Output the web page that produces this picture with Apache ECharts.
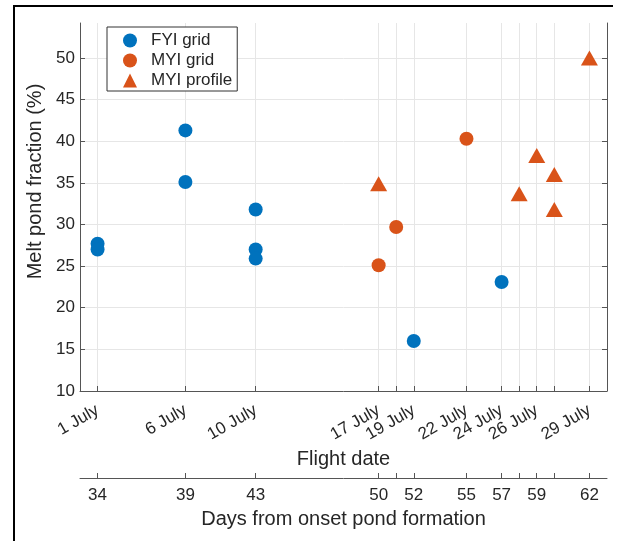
<!DOCTYPE html>
<html>
<head>
<meta charset="utf-8">
<script src="https://cdn.jsdelivr.net/npm/echarts@6/dist/echarts.min.js"></script>
<style>html,body{margin:0;padding:0;background:#fff;}#c{width:623px;height:541px;}</style>
</head>
<body>
<div id="c"></div>
<script>
// Data
var tickDays = [34, 39, 43, 50, 51, 52, 55, 57, 58, 59, 60, 62];
var labelDays = [34, 39, 43, 50, 52, 55, 57, 59, 62];
var dateLabels = ['1 July', '6 July', '10 July', '17 July', '19 July', '22 July', '24 July', '26 July', '29 July'];
var yTicks = [10, 15, 20, 25, 30, 35, 40, 45, 50];

var fyiDays = [34, 34, 39, 39, 43, 43, 43, 52, 57];
var fyiValues = [27.7, 27.0, 41.3, 35.1, 31.8, 27.0, 25.9, 16.0, 23.1];
var myiGridDays = [50, 51, 55];
var myiGridValues = [25.1, 29.7, 40.3];
var myiProfileDays = [50, 58, 59, 60, 60, 62];
var myiProfileValues = [34.9, 33.7, 38.3, 36.0, 31.8, 50.0];

function pairs(xs, ys) { return xs.map(function (x, i) { return [x, ys[i]]; }); }

var FONT = '"Liberation Sans", Arial, Helvetica, sans-serif';
var TXT = '#262626';
var AXC = '#555555';
var GRID = '#e6e6e6';
var TICK_FS = 17;
var NAME_FS = 20;

var chart = echarts.init(document.getElementById('c'), null, { renderer: 'canvas' });
chart.setOption({
  animation: false,
  textStyle: { fontFamily: FONT },
  grid: { left: 80, right: 16, top: 23, bottom: 150, containLabel: false },
  legend: {
    orient: 'vertical', left: 107, top: 27,
    backgroundColor: '#fff', borderColor: '#333', borderWidth: 1,
    padding: [5, 5, 2, 16], itemGap: 3, itemWidth: 14, itemHeight: 14,
    textStyle: { fontSize: 17, lineHeight: 17, color: TXT, fontFamily: FONT, padding: [0, 0, 0, 9] },
    data: [
      { name: 'FYI grid', icon: 'circle' },
      { name: 'MYI grid', icon: 'circle' },
      { name: 'MYI profile', icon: 'triangle' }
    ]
  },
  xAxis: [
    {
      type: 'value', min: 33, max: 63, position: 'bottom',
      axisLine: { show: true, onZero: false, lineStyle: { color: AXC, width: 1 } },
      axisTick: { show: true, inside: true, length: 5, customValues: tickDays, lineStyle: { color: AXC } },
      axisLabel: {
        customValues: labelDays, rotate: 30, margin: 18, fontSize: TICK_FS, color: TXT, fontFamily: FONT,
        padding: [0, 0, 0, 0],
        formatter: function (v) { var i = labelDays.indexOf(v); return i >= 0 ? dateLabels[i] : ''; }
      },
      splitLine: { show: true, lineStyle: { color: GRID, width: 1 } },
      name: 'Flight date', nameLocation: 'middle', nameGap: 58,
      nameTextStyle: { fontSize: NAME_FS, color: TXT, fontFamily: FONT }
    },
    {
      type: 'value', min: 33, max: 63, position: 'bottom', offset: 87,
      axisLine: { show: true, onZero: false, lineStyle: { color: AXC, width: 1 } },
      axisTick: { show: true, inside: true, length: 5, customValues: tickDays, lineStyle: { color: AXC } },
      axisLabel: { customValues: labelDays, margin: 9, fontSize: TICK_FS, color: TXT, fontFamily: FONT },
      splitLine: { show: false },
      name: 'Days from onset pond formation', nameLocation: 'middle', nameGap: 31,
      nameTextStyle: { fontSize: NAME_FS, color: TXT, fontFamily: FONT }
    }
  ],
  yAxis: [
    {
      type: 'value', min: 10, max: 54.2, position: 'left',
      axisLine: { show: true, onZero: false, lineStyle: { color: AXC, width: 1 } },
      axisTick: { show: true, inside: true, length: 5, customValues: yTicks, lineStyle: { color: AXC } },
      axisLabel: { customValues: yTicks, margin: 5, fontSize: TICK_FS, color: TXT, fontFamily: FONT },
      splitLine: { show: true, lineStyle: { color: GRID, width: 1 } },
      name: 'Melt pond fraction (%)', nameLocation: 'middle', nameGap: 27,
      nameTextStyle: { fontSize: NAME_FS, color: TXT, fontFamily: FONT, padding: [0, 0, 0, 51] }
    },
    {
      type: 'value', min: 10, max: 54.2, position: 'right',
      axisLine: { show: true, onZero: false, lineStyle: { color: AXC, width: 1 } },
      axisTick: { show: true, inside: true, length: 5, customValues: yTicks, lineStyle: { color: AXC } },
      axisLabel: { show: false },
      splitLine: { show: false }
    }
  ],
  graphic: [
    { type: 'line', shape: { x1: 13, y1: 6, x2: 613, y2: 6 }, style: { stroke: '#000', lineWidth: 2 }, silent: true },
    { type: 'line', shape: { x1: 14, y1: 5, x2: 14, y2: 541 }, style: { stroke: '#000', lineWidth: 2 }, silent: true }
  ],
  series: [
    {
      name: 'FYI grid', type: 'scatter', xAxisIndex: 0, yAxisIndex: 0,
      symbol: 'circle', symbolSize: 14, itemStyle: { color: '#0072BD', opacity: 1 },
      data: pairs(fyiDays, fyiValues), z: 5
    },
    {
      name: 'MYI grid', type: 'scatter', xAxisIndex: 0, yAxisIndex: 0,
      symbol: 'circle', symbolSize: 14, itemStyle: { color: '#D95319', opacity: 1 },
      data: pairs(myiGridDays, myiGridValues), z: 5
    },
    {
      name: 'MYI profile', type: 'scatter', xAxisIndex: 0, yAxisIndex: 0,
      symbol: 'triangle', symbolSize: [17, 15], itemStyle: { color: '#D95319', opacity: 1 },
      data: pairs(myiProfileDays, myiProfileValues), z: 5
    }
  ]
});
</script>
</body>
</html>
